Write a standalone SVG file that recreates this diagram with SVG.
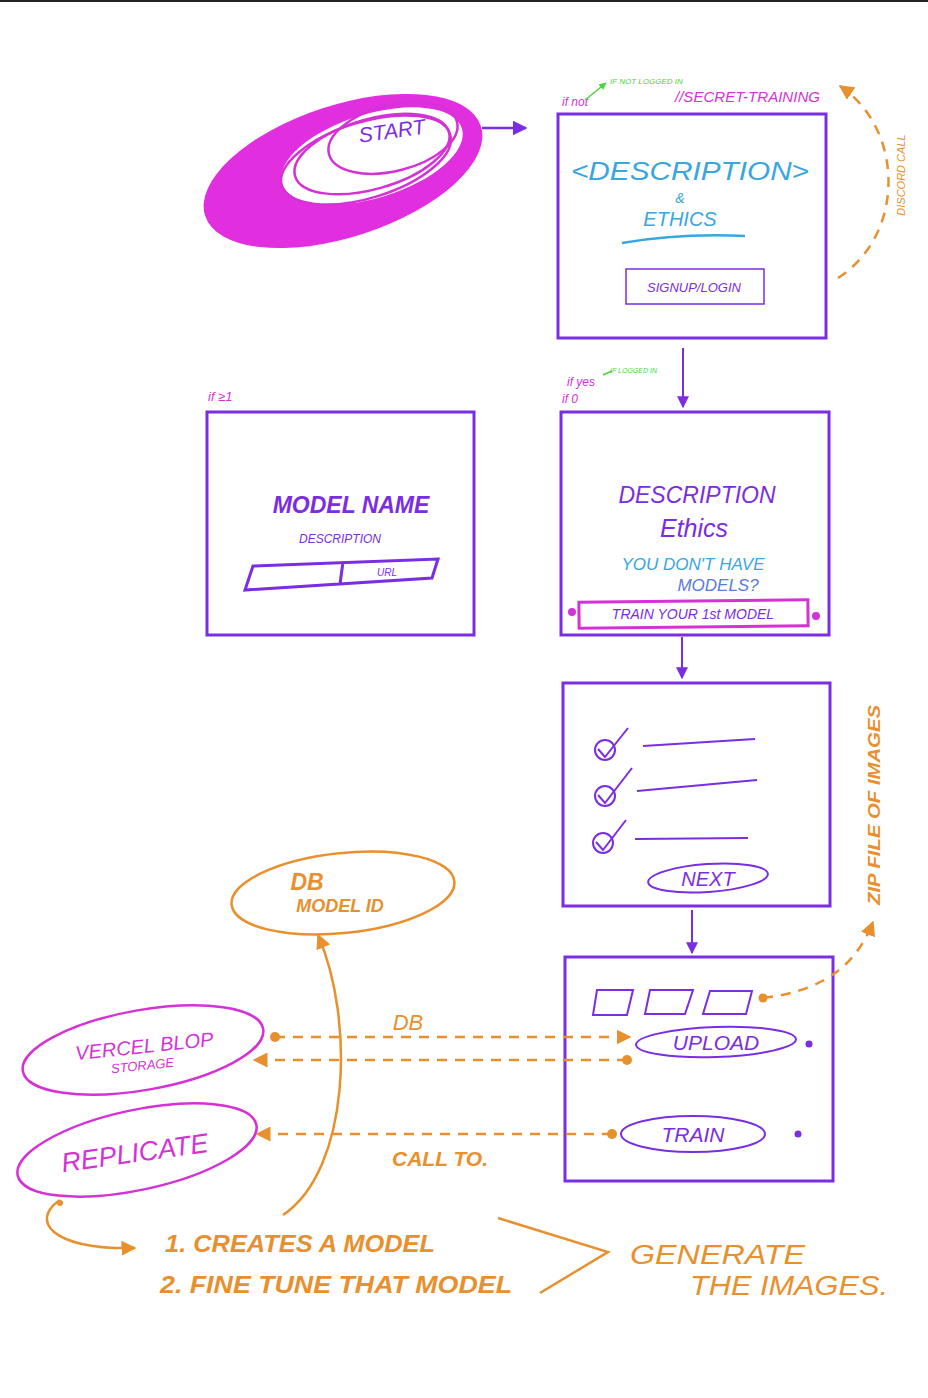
<svg xmlns="http://www.w3.org/2000/svg" width="928" height="1398" viewBox="0 0 928 1398">
<style>
text{font-family:"Liberation Sans","DejaVu Sans",sans-serif;font-style:italic}
.box{fill:none;stroke:#7a2de2;stroke-width:3}
.pu{fill:#7a2de2}
.mg{fill:#d532d6}
.or{fill:#e8902e}
.cy{fill:#3aa6e0}
.gr{fill:#4ed43e}
.oline{fill:none;stroke:#e8902e;stroke-width:2.5}
.dash{fill:none;stroke:#e8902e;stroke-width:2.5;stroke-dasharray:10 8}
.pline{fill:none;stroke:#7a2de2;stroke-width:2}
.mline{fill:none;stroke:#d532d6;stroke-width:2.5}
</style>
<defs>
<marker id="pa" viewBox="0 0 10 10" refX="9" refY="5" markerWidth="6" markerHeight="6" orient="auto"><path d="M0,0L10,5L0,10z" fill="#7a2de2"/></marker>
<marker id="oa" viewBox="0 0 10 10" refX="9" refY="5" markerWidth="6" markerHeight="6" orient="auto"><path d="M0,0L10,5L0,10z" fill="#e8902e"/></marker>
<marker id="ga" viewBox="0 0 10 10" refX="9" refY="5" markerWidth="5" markerHeight="5" orient="auto"><path d="M0,0L10,5L0,10z" fill="#4ed43e"/></marker>
</defs>
<rect x="0" y="0" width="928" height="1398" fill="#fff"/>
<line x1="0" y1="1" x2="928" y2="1" stroke="#222" stroke-width="2"/>

<g id="start">
<ellipse cx="343" cy="171" rx="145" ry="66" transform="rotate(-18 343 171)" fill="#e12fe0"/>
<ellipse cx="372" cy="156" rx="94" ry="42" transform="rotate(-17 372 156)" fill="#fff"/>
<ellipse cx="366" cy="160" rx="88" ry="38" transform="rotate(-17 366 160)" class="mline" stroke-width="2"/>
<ellipse cx="372" cy="154" rx="80" ry="35" transform="rotate(-16 372 154)" class="mline" stroke-width="2"/>
<ellipse cx="393" cy="138" rx="66" ry="33" transform="rotate(-14 393 138)" class="mline" stroke-width="2.5"/>
<text x="393" y="138" class="pu" font-size="21" text-anchor="middle" transform="rotate(-8 393 138)">START</text>
</g>

<g id="login">
<rect x="558" y="114" width="268" height="224" class="box"/>
<text x="690" y="180" class="cy" font-size="25" text-anchor="middle" textLength="238" lengthAdjust="spacingAndGlyphs">&lt;DESCRIPTION&gt;</text>
<text x="680" y="203" class="cy" font-size="14" text-anchor="middle">&amp;</text>
<text x="680" y="226" class="cy" font-size="20" text-anchor="middle">ETHICS</text>
<path d="M622,243 Q680,233 745,236" fill="none" stroke="#3aa6e0" stroke-width="2.5"/>
<rect x="626" y="269" width="138" height="35" fill="none" stroke="#7a2de2" stroke-width="1.5"/>
<text x="694" y="292" class="pu" font-size="13" text-anchor="middle">SIGNUP/LOGIN</text>
<text x="562" y="106" class="mg" font-size="12">if not</text>
<text x="610" y="84" class="gr" font-size="8">IF NOT LOGGED IN</text>
<text x="675" y="102" class="mg" font-size="14" textLength="145" lengthAdjust="spacingAndGlyphs">//SECRET-TRAINING</text>
</g>

<g id="models">
<rect x="207" y="412" width="267" height="223" class="box"/>
<text x="208" y="401" class="mg" font-size="13">if ≥1</text>
<text x="351" y="513" class="pu" font-size="23" font-weight="bold" text-anchor="middle">MODEL NAME</text>
<text x="340" y="543" class="pu" font-size="12" text-anchor="middle">DESCRIPTION</text>
<path d="M253,566 L438,559 L432,578 L245,590 Z M343,562 L340,584" fill="none" stroke="#7a2de2" stroke-width="3"/>
<text x="387" y="576" class="pu" font-size="10" text-anchor="middle">URL</text>
</g>

<g id="empty">
<rect x="561" y="412" width="268" height="223" class="box"/>
<text x="567" y="386" class="mg" font-size="12">if yes</text>
<text x="562" y="403" class="mg" font-size="12">if 0</text>
<text x="610" y="373" class="gr" font-size="7">IF LOGGED IN</text>
<text x="697" y="503" class="pu" font-size="23" text-anchor="middle">DESCRIPTION</text>
<text x="694" y="537" class="pu" font-size="25" text-anchor="middle" font-family="Liberation Serif">Ethics</text>
<text x="693" y="570" class="cy" font-size="17" text-anchor="middle">YOU DON'T HAVE</text>
<text x="718" y="591" fill="#5a7ae0" font-size="17" text-anchor="middle">MODELS?</text>
<rect x="579" y="601" width="229" height="26" fill="none" stroke="#d532d6" stroke-width="3" transform="rotate(-0.6 693 614)"/>
<text x="693" y="619" class="pu" font-size="14" text-anchor="middle">TRAIN YOUR 1st MODEL</text>
<circle cx="572" cy="612" r="4" class="mg"/>
<circle cx="816" cy="616" r="4" class="mg"/>
</g>

<g id="checklist">
<rect x="563" y="683" width="267" height="223" class="box"/>
<circle cx="605" cy="750" r="10" class="pline"/>
<path d="M598,749 L605,757 L628,728" class="pline"/>
<path d="M643,746 L755,739" class="pline"/>
<circle cx="605" cy="796" r="10" class="pline"/>
<path d="M598,795 L605,803 L632,768" class="pline"/>
<path d="M637,791 L757,780" class="pline"/>
<circle cx="603" cy="843" r="10" class="pline"/>
<path d="M596,842 L603,850 L626,820" class="pline"/>
<path d="M635,839 L748,838" class="pline"/>
<ellipse cx="708" cy="878" rx="60" ry="14" transform="rotate(-4 708 878)" class="pline"/>
<text x="708" y="886" class="pu" font-size="20" text-anchor="middle">NEXT</text>
</g>

<g id="upload">
<rect x="565" y="957" width="268" height="224" class="box"/>
<path d="M597,990 L633,990 L627,1015 L593,1015 Z" class="pline" stroke-width="2.5"/>
<path d="M650,990 L693,990 L685,1014 L645,1014 Z" class="pline" stroke-width="2.5"/>
<path d="M710,991 L752,991 L746,1014 L703,1014 Z" class="pline" stroke-width="2.5"/>
<circle cx="763" cy="998" r="4.5" class="or"/>
<ellipse cx="716" cy="1042" rx="80" ry="15" transform="rotate(-2 716 1042)" class="pline"/>
<text x="716" y="1050" class="pu" font-size="21" text-anchor="middle">UPLOAD</text>
<circle cx="809" cy="1044" r="3.5" class="pu"/>
<ellipse cx="693" cy="1134" rx="72" ry="18" class="pline"/>
<text x="693" y="1142" class="pu" font-size="21" text-anchor="middle">TRAIN</text>
<circle cx="798" cy="1134" r="3.5" class="pu"/>
</g>

<g id="db">
<ellipse cx="343" cy="893" rx="112" ry="40" transform="rotate(-6 343 893)" class="oline"/>
<text x="307" y="890" class="or" font-size="23" font-weight="bold" text-anchor="middle">DB</text>
<text x="340" y="912" class="or" font-size="18" font-weight="bold" text-anchor="middle">MODEL ID</text>
</g>

<g id="vercel">
<ellipse cx="143" cy="1050" rx="122" ry="40" transform="rotate(-10 143 1050)" class="mline"/>
<text x="145" y="1053" class="mg" font-size="20" text-anchor="middle" transform="rotate(-6 145 1053)">VERCEL BLOP</text>
<text x="143" y="1070" class="mg" font-size="13" text-anchor="middle" transform="rotate(-6 143 1070)">STORAGE</text>
</g>

<g id="replicate">
<ellipse cx="137" cy="1150" rx="122" ry="40" transform="rotate(-12 137 1150)" class="mline"/>
<text x="136" y="1162" class="mg" font-size="27" text-anchor="middle" transform="rotate(-8 136 1162)">REPLICATE</text>
</g>

<g id="connectors">
<line x1="482" y1="128" x2="526" y2="128" stroke="#7a2de2" stroke-width="2.5" marker-end="url(#pa)"/>
<path d="M585,100 L606,83" stroke="#4ed43e" stroke-width="1.5" fill="none" marker-end="url(#ga)"/>
<path d="M603,375 L612,371" stroke="#4ed43e" stroke-width="1.5" fill="none"/>
<path d="M838,278 C905,235 905,130 840,86" class="dash" marker-end="url(#oa)"/>
<line x1="683" y1="348" x2="683" y2="407" stroke="#7a2de2" stroke-width="2" marker-end="url(#pa)"/>
<line x1="682" y1="637" x2="682" y2="678" stroke="#7a2de2" stroke-width="2" marker-end="url(#pa)"/>
<line x1="692" y1="910" x2="692" y2="953" stroke="#7a2de2" stroke-width="2" marker-end="url(#pa)"/>
<path d="M763,998 C830,990 858,960 873,922" class="dash" marker-end="url(#oa)"/>
<circle cx="275" cy="1037" r="5" class="or"/>
<line x1="275" y1="1037" x2="630" y2="1037" class="dash" marker-end="url(#oa)"/>
<circle cx="627" cy="1060" r="5" class="or"/>
<line x1="627" y1="1060" x2="254" y2="1060" class="dash" marker-end="url(#oa)"/>
<circle cx="612" cy="1134" r="5" class="or"/>
<line x1="612" y1="1134" x2="257" y2="1134" class="dash" marker-end="url(#oa)"/>
<path d="M283,1215 C350,1170 355,1020 318,935" class="oline" marker-end="url(#oa)"/>
<path d="M60,1200 C30,1220 50,1250 135,1248" class="oline" marker-end="url(#oa)"/>
<circle cx="60" cy="1203" r="3" class="or"/>
<path d="M498,1218 L608,1252 L540,1293" class="oline" stroke-width="3"/>
</g>

<g id="labels">
<text x="905" y="175" class="or" font-size="11" text-anchor="middle" transform="rotate(-90 905 175)">DISCORD CALL</text>
<text x="880" y="805" class="or" font-size="17" font-weight="bold" text-anchor="middle" transform="rotate(-90 880 805)" textLength="200" lengthAdjust="spacingAndGlyphs">ZIP FILE OF IMAGES</text>
<text x="408" y="1030" class="or" font-size="22" text-anchor="middle">DB</text>
<text x="440" y="1166" class="or" font-size="21" font-weight="bold" text-anchor="middle">CALL TO.</text>
<text x="165" y="1252" class="or" font-size="24" font-weight="bold" textLength="270" lengthAdjust="spacingAndGlyphs">1. CREATES A MODEL</text>
<text x="160" y="1293" class="or" font-size="24" font-weight="bold" textLength="352" lengthAdjust="spacingAndGlyphs">2. FINE TUNE THAT MODEL</text>
<text x="630" y="1264" class="or" font-size="27" textLength="175" lengthAdjust="spacingAndGlyphs">GENERATE</text>
<text x="690" y="1295" class="or" font-size="27" textLength="198" lengthAdjust="spacingAndGlyphs">THE IMAGES.</text>
</g>
</svg>
